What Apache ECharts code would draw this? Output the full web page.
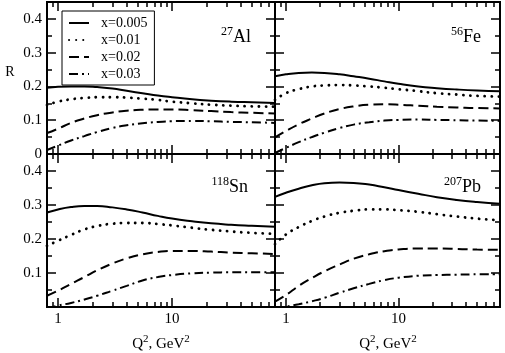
<!DOCTYPE html>
<html>
<head>
<meta charset="utf-8">
<script src="https://cdn.jsdelivr.net/npm/echarts@6/dist/echarts.min.js"></script>
<style>
html, body { margin: 0; padding: 0; background: #fff; }
#chart { width: 505px; height: 353px; }
</style>
</head>
<body>
<div id="chart"></div>
<script>
// Q^2 sample points (GeV^2), shared by every curve
const q2 = [0.8, 1, 1.3, 1.7, 2.2, 3, 4, 5.5, 7.5, 10, 15, 22, 33, 50, 80]

const xNames = ['x=0.005', 'x=0.01', 'x=0.02', 'x=0.03']
const nuclei = [['27', 'Al'], ['56', 'Fe'], ['118', 'Sn'], ['207', 'Pb']]

// 27Al
const alX005 = [0.196, 0.199, 0.200, 0.200, 0.198, 0.194, 0.187, 0.180, 0.173, 0.168, 0.162, 0.158, 0.155, 0.153, 0.151]
const alX01 = [0.145, 0.155, 0.162, 0.166, 0.168, 0.168, 0.167, 0.164, 0.160, 0.155, 0.150, 0.146, 0.143, 0.141, 0.140]
const alX02 = [0.062, 0.075, 0.092, 0.105, 0.115, 0.123, 0.128, 0.131, 0.132, 0.132, 0.130, 0.127, 0.124, 0.122, 0.120]
const alX03 = [0.012, 0.025, 0.040, 0.053, 0.065, 0.077, 0.085, 0.091, 0.095, 0.097, 0.098, 0.097, 0.095, 0.094, 0.092]
// 56Fe
const feX005 = [0.230, 0.236, 0.240, 0.241, 0.240, 0.236, 0.230, 0.223, 0.215, 0.208, 0.200, 0.195, 0.191, 0.188, 0.186]
const feX01 = [0.160, 0.180, 0.192, 0.200, 0.203, 0.204, 0.203, 0.200, 0.196, 0.192, 0.186, 0.180, 0.176, 0.172, 0.170]
const feX02 = [0.049, 0.068, 0.088, 0.105, 0.120, 0.133, 0.141, 0.146, 0.147, 0.146, 0.143, 0.140, 0.138, 0.136, 0.135]
const feX03 = [0.003, 0.018, 0.035, 0.050, 0.063, 0.077, 0.087, 0.094, 0.099, 0.101, 0.102, 0.101, 0.100, 0.099, 0.098]
// 118Sn
const snX005 = [0.278, 0.287, 0.294, 0.297, 0.297, 0.293, 0.287, 0.278, 0.268, 0.260, 0.252, 0.246, 0.242, 0.239, 0.236]
const snX01 = [0.180, 0.195, 0.212, 0.228, 0.238, 0.245, 0.247, 0.247, 0.244, 0.240, 0.233, 0.227, 0.222, 0.218, 0.215]
const snX02 = [0.033, 0.048, 0.068, 0.088, 0.108, 0.128, 0.143, 0.155, 0.162, 0.165, 0.165, 0.163, 0.160, 0.158, 0.156]
const snX03 = [-0.005, 0.004, 0.012, 0.022, 0.033, 0.048, 0.062, 0.078, 0.088, 0.094, 0.099, 0.101, 0.102, 0.102, 0.102]
// 207Pb
const pbX005 = [0.324, 0.336, 0.348, 0.358, 0.364, 0.366, 0.365, 0.360, 0.352, 0.344, 0.333, 0.323, 0.315, 0.309, 0.304]
const pbX01 = [0.185, 0.213, 0.235, 0.253, 0.266, 0.277, 0.283, 0.287, 0.287, 0.285, 0.280, 0.273, 0.266, 0.260, 0.255]
const pbX02 = [0.016, 0.035, 0.062, 0.085, 0.105, 0.125, 0.142, 0.155, 0.164, 0.169, 0.172, 0.172, 0.171, 0.169, 0.168]
const pbX03 = [-0.008, 0.001, 0.008, 0.017, 0.027, 0.042, 0.055, 0.068, 0.079, 0.086, 0.092, 0.094, 0.095, 0.096, 0.096]

const panels = [
  [alX005, alX01, alX02, alX03],
  [feX005, feX01, feX02, feX03],
  [snX005, snX01, snX02, snX03],
  [pbX005, pbX01, pbX02, pbX03],
]

// ticks and labels
const xMajor = [1, 10]
const xMinor = [0.9, 2, 3, 4, 5, 6, 7, 8, 9, 20, 30, 40, 50, 60, 70, 80]
const xLabels = [1, 10]
const yMajor = [0, 0.1, 0.2, 0.3, 0.4]
const yMinor = [0.05, 0.15, 0.25, 0.35]
const yLabelsTop = [0, 0.1, 0.2, 0.3, 0.4]
const yLabelsBottom = [0.1, 0.2, 0.3, 0.4]

const FONT = 'Liberation Serif'
const dashes = ['solid', [0.1, 7], [10, 5], [9, 4, 2, 4]]
const widths = [2, 2.8, 2, 2]

const grids = [
  { left: 47, top: 2, width: 228, height: 152 },
  { left: 275, top: 2, width: 225, height: 152 },
  { left: 47, top: 154, width: 228, height: 153 },
  { left: 275, top: 154, width: 225, height: 153 },
]

const lineStyle = { color: '#000', width: 2 }
const labelStyle = { color: '#000', fontFamily: FONT, fontSize: 15 }

function xAxis(g, position, ticks, len, labels) {
  return {
    type: 'log',
    logBase: 10,
    gridIndex: g,
    position: position,
    min: 0.8,
    max: 80,
    axisLine: { show: true, onZero: false, lineStyle: lineStyle },
    axisTick: { show: true, inside: true, length: len, customValues: ticks, lineStyle: { color: '#000', width: 1.5 } },
    axisLabel: labels ? Object.assign({ show: true, margin: 5, customValues: labels }, labelStyle) : { show: false },
    splitLine: { show: false },
    minorTick: { show: false },
  }
}

function yAxis(g, position, ticks, len, labels) {
  return {
    type: 'value',
    gridIndex: g,
    position: position,
    min: 0,
    max: 0.45,
    axisLine: { show: true, onZero: false, lineStyle: lineStyle },
    axisTick: { show: true, inside: true, length: len, customValues: ticks, lineStyle: { color: '#000', width: 1.5 } },
    axisLabel: labels ? Object.assign({ show: true, margin: 5, customValues: labels }, labelStyle) : { show: false },
    splitLine: { show: false },
  }
}

const xAxes = []
const yAxes = []
const series = []
grids.forEach((gr, g) => {
  const isBottom = g >= 2
  const isLeft = g % 2 === 0
  xAxes.push(
    xAxis(g, 'bottom', xMajor, 9, isBottom ? xLabels : null),
    xAxis(g, 'bottom', xMinor, 5, null),
    xAxis(g, 'top', xMajor, 9, null),
    xAxis(g, 'top', xMinor, 5, null)
  )
  yAxes.push(
    yAxis(g, 'left', yMajor, 9, isLeft ? (isBottom ? yLabelsBottom : yLabelsTop) : null),
    yAxis(g, 'left', yMinor, 5, null),
    yAxis(g, 'right', yMajor, 9, null),
    yAxis(g, 'right', yMinor, 5, null)
  )
  panels[g].forEach((vals, k) => {
    series.push({
      type: 'line',
      name: xNames[k],
      xAxisIndex: g * 4,
      yAxisIndex: g * 4,
      smooth: true,
      symbol: 'none',
      clip: true,
      silent: true,
      lineStyle: { color: '#000', width: widths[k], type: dashes[k], cap: k === 1 ? 'round' : 'butt' },
      itemStyle: { color: '#000' },
      data: q2.map((q, i) => [q, vals[i]]),
    })
  })
})

function nucleus(pair, x, y) {
  return {
    type: 'text',
    x: x,
    y: y,
    style: {
      text: '{s|' + pair[0] + '}{b|' + pair[1] + '}',
      align: 'right',
      verticalAlign: 'bottom',
      rich: {
        s: { fontFamily: FONT, fontSize: 12, verticalAlign: 'top', lineHeight: 20, fill: '#000' },
        b: { fontFamily: FONT, fontSize: 18, verticalAlign: 'bottom', lineHeight: 20, fill: '#000' },
      },
    },
  }
}

function q2Title(x) {
  return {
    type: 'text',
    x: x,
    y: 343,
    style: {
      text: '{b|Q}{s|2}{b|, GeV}{s|2}',
      align: 'center',
      verticalAlign: 'middle',
      rich: {
        s: { fontFamily: FONT, fontSize: 11, verticalAlign: 'top', lineHeight: 18, fill: '#000' },
        b: { fontFamily: FONT, fontSize: 15, verticalAlign: 'bottom', lineHeight: 18, fill: '#000' },
      },
    },
  }
}

const chart = echarts.init(document.getElementById('chart'))
chart.setOption({
  animation: false,
  backgroundColor: '#fff',
  grid: grids,
  xAxis: xAxes,
  yAxis: yAxes,
  legend: {
    orient: 'vertical',
    left: 62,
    top: 11,
    padding: [5, 7, 4, 6],
    itemWidth: 20,
    itemHeight: 12,
    itemGap: 3,
    borderColor: '#000',
    borderWidth: 1,
    backgroundColor: '#fff',
    selectedMode: false,
    itemStyle: { opacity: 0 },
    textStyle: { color: '#000', fontFamily: FONT, fontSize: 14, padding: [0, 0, 0, 7] },
    data: xNames,
  },
  graphic: [
    { type: 'text', x: 10, y: 72, style: { text: 'R', fontFamily: FONT, fontSize: 14, fill: '#000', align: 'center', verticalAlign: 'middle' } },
    nucleus(nuclei[0], 251, 46),
    nucleus(nuclei[1], 481, 46),
    nucleus(nuclei[2], 248, 196),
    nucleus(nuclei[3], 481, 196),
    q2Title(161),
    q2Title(388),
  ],
  series: series,
})
</script>
</body>
</html>
